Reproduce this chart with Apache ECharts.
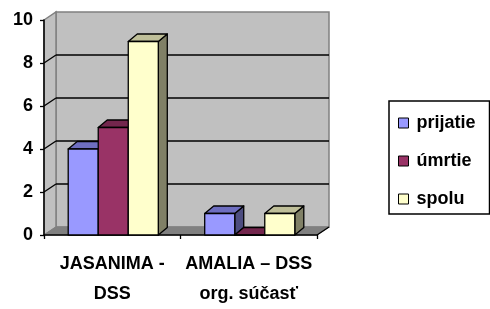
<!DOCTYPE html>
<html>
<head>
<meta charset="utf-8">
<script src="https://cdn.jsdelivr.net/npm/echarts@6/dist/echarts.min.js"></script>
<style>
html,body{margin:0;padding:0;background:#fff;}
#chart{width:490px;height:309px;}
</style>
</head>
<body>
<div id="chart"></div>
<script>
var categories = ['JASANIMA -\nDSS', 'AMALIA \u2013 DSS\norg. s\u00fa\u010das\u0165'];
var prijatie = [4, 1];
var umrtie = [5, 0];
var spolu = [9, 1];
var seriesNames = ['prijatie', '\u00famrtie', 'spolu'];
var yTicks = [0, 2, 4, 6, 8, 10];

var FONT = '"Liberation Sans", Arial, sans-serif';
var WALL_DX = 12, WALL_DY = -8;
var BAR_DX = 9, BAR_DY = -7.5;
var BAR_FRAC = 0.22;

var palette = [
  {front: '#9999FF', top: '#6E6EC0', side: '#4D4D80'},
  {front: '#993366', top: '#73264D', side: '#4D1A33'},
  {front: '#FFFFCC', top: '#BFBF99', side: '#808066'}
];

function barRenderer(k) {
  return function (params, api) {
    var idx = api.value(0), val = api.value(1);
    var topPt = api.coord([idx, val]);
    var basePt = api.coord([idx, 0]);
    var catW = api.size([1, 0])[0];
    var bw = catW * BAR_FRAC;
    var l = topPt[0] - 1.5 * bw + k * bw + 1;
    var t = topPt[1], b = basePt[1];
    var c = palette[k];
    var ls = {stroke: '#000', lineWidth: 1.3, lineJoin: 'round'};
    return {
      type: 'group',
      children: [
        {type: 'polygon', shape: {points: [[l + bw, t], [l + bw + BAR_DX, t + BAR_DY], [l + bw + BAR_DX, b + BAR_DY], [l + bw, b]]},
         style: Object.assign({fill: c.side}, ls)},
        {type: 'polygon', shape: {points: [[l, t], [l + BAR_DX, t + BAR_DY], [l + bw + BAR_DX, t + BAR_DY], [l + bw, t]]},
         style: Object.assign({fill: c.top}, ls)},
        {type: 'rect', shape: {x: l, y: t, width: bw, height: b - t},
         style: Object.assign({fill: c.front}, ls)}
      ]
    };
  };
}

function wallRenderer(params, api) {
  var cs = params.coordSys;
  var x = cs.x, y = cs.y, w = cs.width, h = cs.height;
  var dx = WALL_DX, dy = WALL_DY;
  var children = [
    {type: 'rect', shape: {x: x + dx, y: y + dy, width: w, height: h},
     style: {fill: '#C0C0C0', stroke: '#808080', lineWidth: 1.5}},
    {type: 'polygon', shape: {points: [[x, y], [x + dx, y + dy], [x + dx, y + h + dy], [x, y + h]]},
     style: {fill: '#C0C0C0', stroke: '#808080', lineWidth: 1.5}},
    {type: 'polygon', shape: {points: [[x, y + h], [x + dx, y + h + dy], [x + w + dx, y + h + dy], [x + w, y + h]]},
     style: {fill: '#808080', stroke: '#808080', lineWidth: 1}}
  ];
  yTicks.forEach(function (v) {
    if (v === 0 || v === 10) return;
    var py = api.coord([0, v])[1];
    children.push({type: 'line', shape: {x1: x + dx, y1: py + dy, x2: x + w + dx, y2: py + dy},
      style: {stroke: '#000', lineWidth: 1.5}});
    children.push({type: 'line', shape: {x1: x, y1: py, x2: x + dx, y2: py + dy},
      style: {stroke: '#000', lineWidth: 1.3}});
  });
  children.push({type: 'line', shape: {x1: x + w, y1: y + h, x2: x + w + dx, y2: y + h + dy},
    style: {stroke: '#000', lineWidth: 1.3}});
  return {type: 'group', children: children};
}

var seriesData = [prijatie, umrtie, spolu];
var series = [{
  name: 'walls', type: 'custom', z: -1, silent: true,
  renderItem: wallRenderer, data: [[0, 0]], encode: {x: 0, y: 1}
}];
seriesData.forEach(function (arr, k) {
  series.push({
    name: seriesNames[k], type: 'custom', z: 3,
    renderItem: barRenderer(k),
    itemStyle: {color: palette[k].front, borderColor: '#000', borderWidth: 1},
    data: arr.map(function (v, i) { return [i, v]; }),
    encode: {x: 0, y: 1}
  });
});

var chart = echarts.init(document.getElementById('chart'), null, {renderer: 'canvas'});
chart.setOption({
  animation: false,
  backgroundColor: '#fff',
  grid: {left: 44, right: 173, top: 20, bottom: 68},
  xAxis: {
    type: 'category', data: categories, boundaryGap: true,
    axisLine: {lineStyle: {color: '#000', width: 1.5}},
    axisTick: {show: true, length: 4, lineStyle: {color: '#000', width: 1.3}},
    axisLabel: {interval: 0, color: '#000', fontFamily: FONT, fontWeight: 'bold', fontSize: 18, lineHeight: 30, margin: 14}
  },
  yAxis: {
    type: 'value', min: 0, max: 10, interval: 2,
    axisLine: {show: true, lineStyle: {color: '#000', width: 1.5}},
    axisTick: {show: true, length: 4, lineStyle: {color: '#000', width: 1.3}},
    splitLine: {show: false},
    axisLabel: {color: '#000', fontFamily: FONT, fontWeight: 'bold', fontSize: 18, margin: 11}
  },
  legend: {
    data: seriesNames, orient: 'vertical', left: 389, top: 101,
    padding: [13, 14, 6, 9], itemWidth: 10, itemHeight: 10, itemGap: 20,
    icon: 'rect',
    borderColor: '#000', borderWidth: 1.5,
    itemStyle: {borderColor: '#000', borderWidth: 1},
    textStyle: {color: '#000', fontFamily: FONT, fontWeight: 'bold', fontSize: 18, lineHeight: 18, padding: [0, 0, 0, 3]}
  },
  series: series
});
</script>
</body>
</html>
